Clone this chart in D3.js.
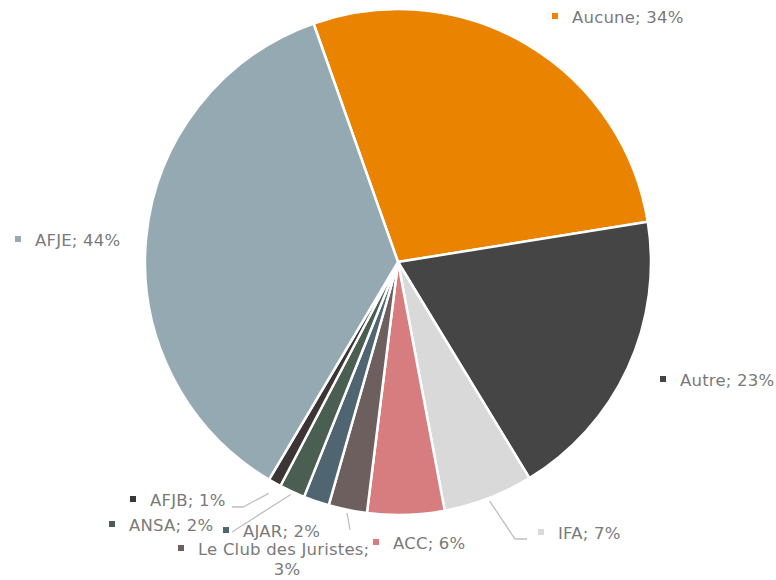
<!DOCTYPE html>
<html>
<head>
<meta charset="utf-8">
<script src="https://cdn.jsdelivr.net/npm/d3@7"></script>
<style>
  body { margin: 0; background: #fff; }
  svg text { font-family: 'DejaVu Sans', sans-serif; font-size: 16.5px; letter-spacing: 0.2px; fill: #7a7a7a; }
</style>
</head>
<body>
<svg id="svg_pie" width="776" height="580"></svg>
<script>
// categories, in clockwise order starting with "Aucune"
const categories = ['Aucune', 'Autre', 'IFA', 'ACC', 'Le Club des Juristes', 'AJAR', 'ANSA', 'AFJB', 'AFJE'];
const values = [34, 23, 7, 6, 3, 2, 2, 1, 44];
const labels = ['Aucune; 34%', 'Autre; 23%', 'IFA; 7%', 'ACC; 6%', ['Le Club des Juristes;', '3%'], 'AJAR; 2%', 'ANSA; 2%', 'AFJB; 1%', 'AFJE; 44%'];
const colors = ['#e98300', '#454545', '#d9d9d9', '#d77d80', '#6e5f5f', '#4f6672', '#4a5e51', '#3d3435', '#95a9b2'];

// label placement (text start x, baseline y) and leader lines, layout only
const label_pos = [
  [572, 23], [680, 386], [558, 539], [393, 549], [198, 555], [243, 537], [129, 531], [150, 506], [35, 246],
];
const leaders = {
  2: { r: 256, pts: [[515, 539], [527, 539]] },
  4: { r: 256, pts: [[350, 530]] },
  6: { r: 256, pts: [[232, 532]] },
  7: { r: 265, pts: [[243, 507], [232, 507]] },
};

const svg = d3.select('#svg_pie');
const cx = 398;
const cy = 262;
const radius = 253;

const start = -19.5 * Math.PI / 180;
const pie = d3.pie().sort(null).value(d => d)
  .startAngle(start).endAngle(start + 2 * Math.PI);
const arcs = pie(values);
const arc = d3.arc().innerRadius(0).outerRadius(radius);

const plot = svg.append('g').attr('transform', `translate(${[cx, cy]})`);

plot.selectAll('path.slice')
  .data(arcs)
  .enter()
  .append('path')
  .attr('class', 'slice')
  .attr('d', arc)
  .attr('fill', (d, i) => colors[i])
  .attr('stroke', '#fff')
  .attr('stroke-width', 2.5)
  .attr('stroke-linejoin', 'round');

// leader lines
Object.keys(leaders).forEach((k) => {
  const a = arcs[+k];
  const mid = (a.startAngle + a.endAngle) / 2;
  const r = leaders[k].r;
  const p0 = [cx + r * Math.sin(mid), cy - r * Math.cos(mid)];
  svg.append('path')
    .attr('d', d3.line()([p0, ...leaders[k].pts]))
    .attr('fill', 'none')
    .attr('stroke', '#bfbfbf')
    .attr('stroke-width', 1.3);
});

const lab = svg.selectAll('g.label')
  .data(categories)
  .enter()
  .append('g')
  .attr('class', 'label')
  .attr('transform', (d, i) => `translate(${label_pos[i]})`);

lab.append('rect')
  .attr('x', -20)
  .attr('y', -10)
  .attr('width', 6)
  .attr('height', 6)
  .attr('fill', (d, i) => colors[i]);

lab.each(function (d, i) {
  const t = d3.select(this).append('text');
  const l = labels[i];
  if (Array.isArray(l)) {
    t.append('tspan').attr('x', 0).attr('y', 0).text(l[0]);
    t.append('tspan').attr('x', 89).attr('y', 20).attr('text-anchor', 'middle').text(l[1]);
  } else {
    t.attr('x', 0).attr('y', 0).text(l);
  }
});
</script>
</body>
</html>
